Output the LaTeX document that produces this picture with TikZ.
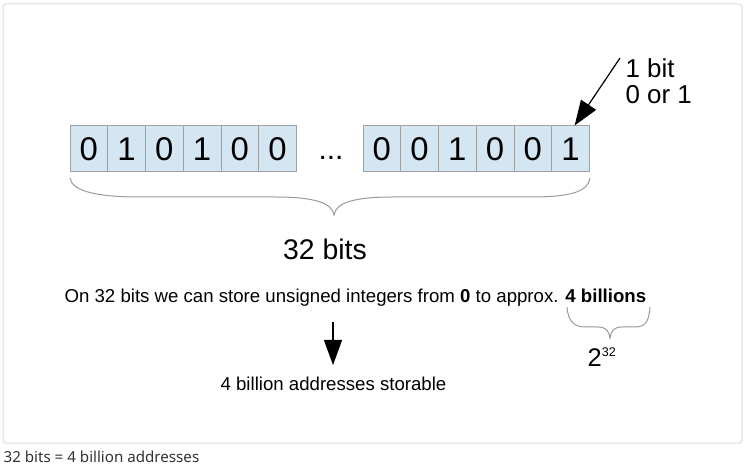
\documentclass[tikz,border=0pt]{standalone}
\usepackage{fontspec}
\setmainfont{Liberation Sans}
\newfontfamily\capfont{Noto Sans}
\usetikzlibrary{arrows.meta,positioning}
\definecolor{cellblue}{HTML}{D5E6F3}
\definecolor{cellline}{HTML}{A0A0A0}
\definecolor{braceline}{HTML}{9A9A9A}
\definecolor{framegray}{HTML}{DADCE0}
\definecolor{captext}{HTML}{333333}

\begin{document}
\begin{tikzpicture}[x=1bp,y=-1bp,>={Triangle[width=18bp,length=25bp]},line width=1.2bp,
  bit/.style={draw=cellline,line width=1bp,fill=cellblue,minimum width=37.75bp,minimum height=46bp,inner sep=0pt,font=\fontsize{33}{33}\selectfont},
  brace/.style={draw=braceline,line width=1bp},
  txt/.style={inner sep=0pt,anchor=base}]
\useasboundingbox (0,0) rectangle (747,467);
\draw[framegray,line width=1bp,rounded corners=3bp] (3,4) rectangle (742,443);

\foreach \b [count=\i] in {0,1,0,1,0,0}
  \node[bit] (L\i) at ({70+37.75*(\i-0.5)},149) {\b};
\foreach \b [count=\i] in {0,0,1,0,0,1}
  \node[bit] (R\i) at ({363+37.75*(\i-0.5)},149) {\b};
\node[txt,font=\fontsize{30}{30}\selectfont] (dots) at (331,160) {...};

\node[inner sep=0pt,anchor=north west,align=left,font=\fontsize{26}{26}\selectfont] (onebit) at (625,58) {1 bit\\0 or 1};
\coordinate (from) at (620,58);
\draw[->] (from) -- ([xshift=4bp]R6.north);

% braces
\draw[brace] (70,178) .. controls (72,192) and (100,197) .. (140,197) -- (275,197)
  .. controls (315,197) and (332,203) .. (334,215) .. controls (336,203) and (353,197) .. (393,197)
  -- (530,197) .. controls (570,197) and (588,192) .. (590,178);
\node[txt,font=\fontsize{28.5}{28.5}\selectfont] (bits) at (325,260) {32 bits};

\node[txt,anchor=base west,font=\fontsize{18.7}{18.7}\selectfont] (store) at (64,303) {On 32 bits we can store unsigned integers from \textbf{0} to approx. \textbf{4 billions}};
\draw[brace] (567,307) .. controls (568,322) and (575,327) .. (585,327) -- (598,327)
  .. controls (606,327) and (609,331) .. (610,338) .. controls (611,331) and (614,327) .. (622,327)
  -- (635,327) .. controls (645,327) and (649,322) .. (650,307);
\node[txt,anchor=base west,font=\fontsize{25.6}{25.6}\selectfont] (pow) at (587,367) {2\raisebox{10bp}{\fontsize{12.6}{12.6}\selectfont 32}};

\coordinate (down) at (333,322);
\node[txt,font=\fontsize{18.7}{18.7}\selectfont] (addr) at (333.5,390) {4 billion addresses storable};
\draw[->] (down) -- (333,365);

\node[inner sep=0pt,anchor=base west,text=captext,font=\capfont\fontsize{15.2}{15.2}\selectfont] (caption) at (3,462) {32 bits = 4 billion addresses};
\end{tikzpicture}
\end{document}
